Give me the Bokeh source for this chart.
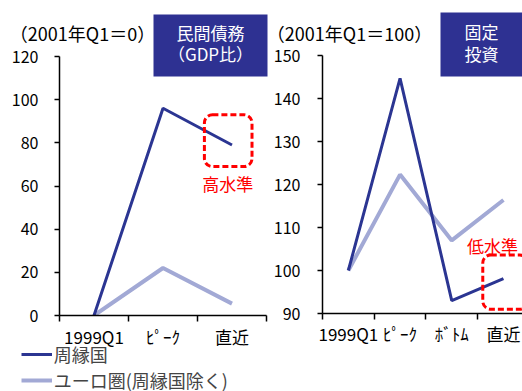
from bokeh.plotting import figure
from bokeh.models import (Range1d, FixedTicker, Legend, LegendItem, Label, BoxAnnotation,
                          GridBox)
from bokeh.core.properties import value
from bokeh.embed import file_html
from bokeh.resources import INLINE

FONT = "Noto Sans CJK JP"
NAVY = "#2B3592"
BOXBLUE = "#2E3192"
LIGHT = "#A2A9D5"
RED = "#FF0000"
NAN = float("nan")

# ---- data ----
debt_cats = ["1999Q1", "ﾋﾟｰｸ", "直近"]
debt_periph = [0, 96, 79]
debt_euro = [0, 22, 5.5]
debt_yticks = [0, 20, 40, 60, 80, 100, 120]

inv_cats = ["1999Q1", "ﾋﾟｰｸ", "ﾎﾞﾄﾑ", "直近"]
inv_periph = [100, 144.7, 93, 98.1]
inv_euro = [100, 122.3, 107, 116.4]
inv_yticks = [90, 100, 110, 120, 130, 140, 150]

legend_labels = ["周縁国", "ユーロ圏(周縁国除く)"]
debt_title = ["民間債務", "（GDP比）"]
inv_title = ["固定", "投資"]
debt_unit = "（2001年Q1＝0）"
inv_unit = "（2001年Q1＝100）"


def no_align(p):
    if hasattr(p, "frame_align"):
        p.frame_align = False


def style(p, cats, yticks, ystand, xstand):
    n = len(cats)
    p.xaxis.ticker = FixedTicker(ticks=[i + 0.5 for i in range(n)],
                                 minor_ticks=list(range(n + 1)))
    p.xaxis.major_label_overrides = {i + 0.5: c for i, c in enumerate(cats)}
    p.xaxis.major_tick_out = 0
    p.xaxis.major_tick_in = 0
    p.xaxis.minor_tick_out = 6
    p.xaxis.minor_tick_in = 0
    p.xaxis.minor_tick_line_color = "black"
    p.xaxis.minor_tick_line_width = 1.5
    p.xaxis.major_label_standoff = xstand
    p.yaxis.ticker = FixedTicker(ticks=yticks)
    p.yaxis.minor_tick_line_color = None
    p.yaxis.major_tick_out = 5
    p.yaxis.major_tick_in = 0
    p.yaxis.major_tick_line_width = 1.5
    p.yaxis.major_label_standoff = ystand
    for ax in (p.xaxis, p.yaxis):
        ax.axis_line_color = "black"
        ax.axis_line_width = 1.5
        ax.major_tick_line_color = "black"
        ax.major_label_text_font = FONT
        ax.major_label_text_font_size = "16px"
        ax.major_label_text_color = "black"
    p.xaxis.major_label_text_font_size = "17px"
    p.grid.visible = False
    p.outline_line_color = None
    no_align(p)


# ---- left panel: private debt ----
p1 = figure(width=268, height=391, output_backend="svg", toolbar_location=None,
            x_range=Range1d(0, len(debt_cats)), y_range=Range1d(0, 120),
            min_border_left=59, min_border_right=2, min_border_top=56, min_border_bottom=76)
xs1 = [i + 0.5 for i in range(len(debt_cats))]
p1.line(xs1, debt_euro, line_color=LIGHT, line_width=4)
p1.line(xs1, debt_periph, line_color=NAVY, line_width=3)
style(p1, debt_cats, debt_yticks, 16, 2)

p1.add_layout(BoxAnnotation(left=2.1, right=2.79, bottom=69, top=93, fill_alpha=0,
                            line_color=RED, line_alpha=1, line_width=3, line_dash="6 3",
                            border_radius=8))
p1.add_layout(Label(x=2.44, y=61, text="高水準", text_color=RED, text_font=FONT,
                    text_font_size="17px", text_align="center", text_baseline="middle"))

# ---- right panel: fixed investment ----
p2 = figure(width=254, height=391, output_backend="svg", toolbar_location=None,
            x_range=Range1d(0, 200 / 51.7), y_range=Range1d(90, 150),
            min_border_left=54, min_border_right=0, min_border_top=55, min_border_bottom=78)
xs2 = [i + 0.5 for i in range(len(inv_cats))]
p2.line(xs2, inv_euro, line_color=LIGHT, line_width=4)
p2.line(xs2, inv_periph, line_color=NAVY, line_width=3)
style(p2, inv_cats, inv_yticks, 17, 1)

p2.add_layout(BoxAnnotation(left=3.1, right=3.97, bottom=91, top=103.6, fill_alpha=0,
                            line_color=RED, line_alpha=1, line_width=3, line_dash="6 3",
                            border_radius=8))
p2.add_layout(Label(x=3.29, y=105.9, text="低水準", text_color=RED, text_font=FONT,
                    text_font_size="17px", text_align="center", text_baseline="middle"))

# ---- overlay for headings and legend (pixel coordinates, y downward) ----
ov = figure(width=522, height=391, output_backend="svg", toolbar_location=None,
            x_range=Range1d(0, 522), y_range=Range1d(391, 0),
            x_axis_type=None, y_axis_type=None, min_border=0)
ov.grid.visible = False
ov.outline_line_color = None
ov.background_fill_alpha = 0
ov.border_fill_alpha = 0
no_align(ov)

ov.quad(left=[153, 440], right=[267, 524], top=[14, 12], bottom=[76, 76],
        fill_color=BOXBLUE, line_color=None)
ov.text(x=[210, 210], y=[32, 53], text=debt_title, text_color="white",
        text_font=value(FONT), text_font_size="17px", text_align="center",
        text_baseline="middle")
ov.text(x=[481, 481], y=[31, 53], text=inv_title, text_color="white",
        text_font=value(FONT), text_font_size="17px", text_align="center",
        text_baseline="middle")
ov.text(x=[82, 349], y=[32, 32], text=[debt_unit, inv_unit], text_color="black",
        text_font=value(FONT), text_font_size="18px", text_align="center",
        text_baseline="middle")

# legend entries styled like the chart lines
d1 = ov.line([NAN, NAN], [NAN, NAN], line_color=NAVY, line_width=3)
d2 = ov.line([NAN, NAN], [NAN, NAN], line_color=LIGHT, line_width=4)
legend = Legend(items=[LegendItem(label=legend_labels[0], renderers=[d1]),
                       LegendItem(label=legend_labels[1], renderers=[d2])],
                location=(20.7, -1.5), padding=0, margin=0, spacing=0,
                glyph_width=31, glyph_height=20, label_height=20, label_standoff=2,
                label_text_font=FONT, label_text_font_size="18px",
                border_line_color=None, background_fill_alpha=0)
ov.add_layout(legend)

layout = GridBox(children=[(p1, 0, 0), (p2, 0, 1), (ov, 0, 0, 1, 2)], spacing=0)
open("out.html", "w").write(file_html(layout, INLINE))
